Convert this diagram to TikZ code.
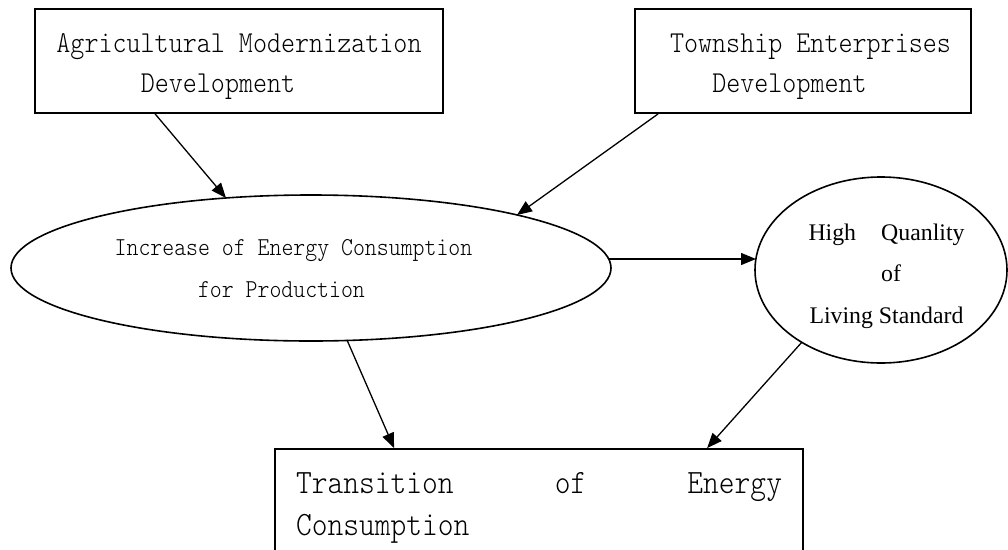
\documentclass[tikz,border=0pt]{standalone}
\usepackage{fontspec}
\setmainfont{Liberation Serif}
\newfontfamily\simfont[FakeStretch=0.88]{Latin Modern Mono Light}
\usetikzlibrary{arrows.meta,calc,shapes.geometric}
\begin{document}
\begin{tikzpicture}[x=1pt,y=-1pt,
  boxnode/.style={draw,line width=1.8pt,rectangle,inner sep=0pt},
  ovalnode/.style={draw,line width=1.6pt,ellipse,inner sep=0pt},
  conn/.style={line width=1.3pt,-{Triangle[length=15pt,width=12pt]}}]
\clip (0,0) rectangle (1008,549);
\node[boxnode] (amd) at (239,61) {\parbox[c][104pt][t]{408pt}{\centering\simfont\fontsize{30.4pt}{40pt}\selectfont\rule{0pt}{43pt}Agricultural Modernization\\Development\rule{42pt}{0pt}}};
\node[boxnode] (ted) at (803,61) {\parbox[c][104pt][t]{336pt}{\centering\simfont\fontsize{30.4pt}{40pt}\selectfont\rule{0pt}{43pt}\rule{15pt}{0pt}Township Enterprises\\Development\rule{27pt}{0pt}}};
\node[ovalnode,minimum width=600pt,minimum height=146pt] (ipc) at (311,268) {\parbox[c][100pt][t]{400pt}{\centering\simfont\fontsize{25.8pt}{42pt}\selectfont\rule{0pt}{37pt}Increase of Energy Consumption\rule{35pt}{0pt}\\for Production\rule{59pt}{0pt}}};
\node[ovalnode,minimum width=252pt,minimum height=186pt] (hql) at (881,270) {\parbox[c][110pt][t]{170pt}{\centering\fontsize{23.8pt}{41.5pt}\selectfont\rule{0pt}{25pt}\rule{11pt}{0pt}\makebox[156pt]{High\hfill Quanlity}\\\rule{20pt}{0pt}of\\\rule{11pt}{0pt}Living Standard}};
\node[boxnode,inner xsep=21pt] (tec) at (539,514) {\parbox[c][130pt][t]{486pt}{\raggedright\simfont\fontsize{34.1pt}{42pt}\selectfont\rule{0pt}{44pt}\makebox[486pt]{Transition\hfill of\hfill Energy}\\Consumption}};
\draw[conn] ($(amd.south west)+(121,0)$) -- ($(ipc.center)+(-85,-70)$);
\draw[conn] ($(ted.south west)+(24,0)$) -- ($(ipc.center)+(206,-53)$);
\draw[conn] ($(ipc.center)+(298,-9)$) -- ($(hql.center)+(-125,-11)$);
\draw[conn] ($(ipc.center)+(36,72)$) -- ($(tec.north west)+(120,0)$);
\draw[conn] ($(hql.center)+(-79,72)$) -- ($(tec.north west)+(433,0)$);
\end{tikzpicture}
\end{document}
